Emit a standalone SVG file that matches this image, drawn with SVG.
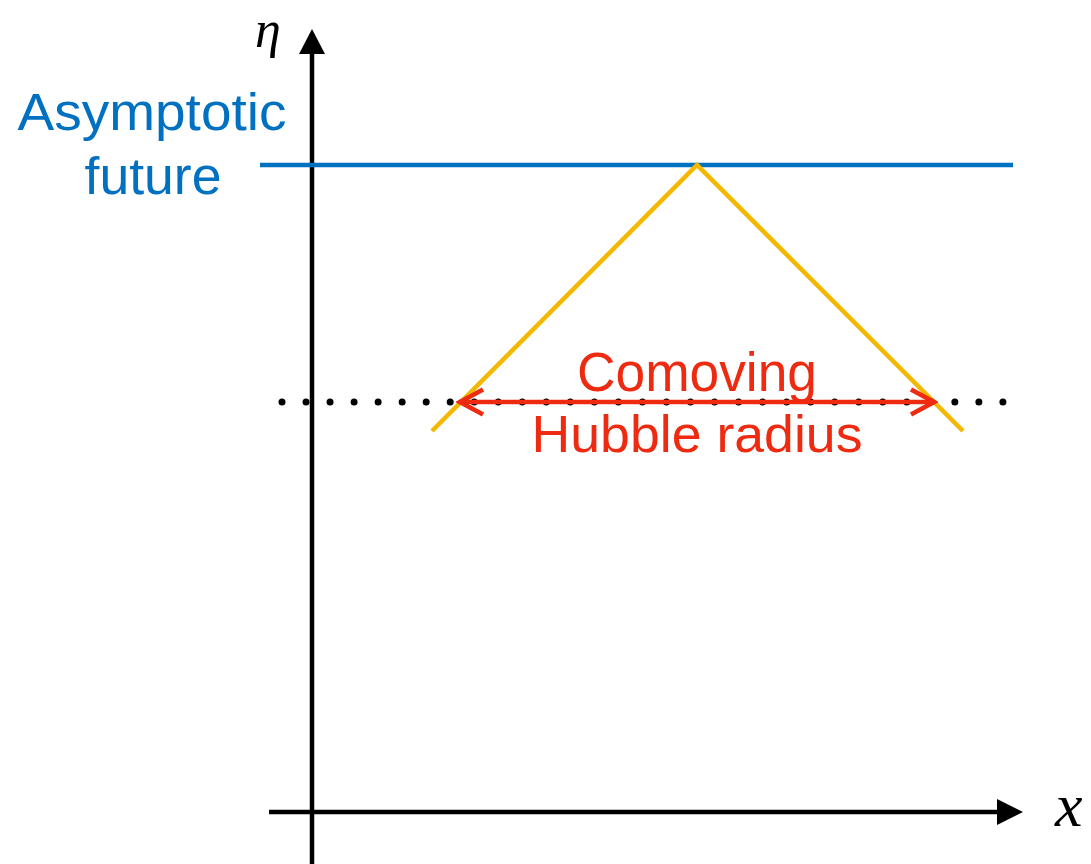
<svg xmlns="http://www.w3.org/2000/svg" width="1091" height="864" viewBox="0 0 1091 864">
<style>
.axis{stroke:#000;stroke-width:4.5;fill:none}
.lbl{font-family:"Liberation Sans",Arial,sans-serif}
.math{font-family:"Liberation Serif","Times New Roman",serif;font-style:italic}
</style>
<defs>
<marker id="redhead" viewBox="-28 -16 32 32" refX="1" refY="0" markerWidth="32" markerHeight="32" markerUnits="userSpaceOnUse" orient="auto-start-reverse">
<path d="M-23,-12.5 L0,0 L-23,12.5" fill="none" stroke="#EE2A10" stroke-width="4.5"/>
</marker>
</defs>
<rect width="1091" height="864" fill="#fff"/>
<g id="connectors">
<line class="axis" x1="312" y1="864" x2="312" y2="50"/>
<polygon points="312,29 299,54 325,54" fill="#000"/>
<line class="axis" x1="269" y1="812" x2="1000" y2="812"/>
<polygon points="1023,812 997,799 997,825" fill="#000"/>
<line x1="260" y1="165" x2="1013" y2="165" stroke="#0070C0" stroke-width="4.5"/>
<polyline points="432,431 697,165 963,431" fill="none" stroke="#F5B800" stroke-width="4.5"/>
<line x1="282" y1="402" x2="1003" y2="402" stroke="#000" stroke-width="7" stroke-linecap="round" stroke-dasharray="0 24.03"/>
<line x1="459" y1="402" x2="935" y2="402" stroke="#EE2A10" stroke-width="4.5" marker-start="url(#redhead)" marker-end="url(#redhead)"/>
</g>
<g id="eta-label"><text class="math" x="255" y="47" font-size="52">η</text></g>
<g id="x-label"><text class="math" x="1055" y="826" font-size="62">x</text></g>
<g id="asymptotic-future">
<text class="lbl" fill="#0070C0" font-size="51" text-anchor="middle" x="152" y="130" textLength="269" lengthAdjust="spacingAndGlyphs">Asymptotic</text>
<text class="lbl" fill="#0070C0" font-size="51" text-anchor="middle" x="153" y="194" textLength="137" lengthAdjust="spacingAndGlyphs">future</text>
</g>
<g id="hubble-radius">
<text class="lbl" fill="#EE2A10" font-size="55" text-anchor="middle" x="697" y="391" textLength="240" lengthAdjust="spacingAndGlyphs">Comoving</text>
<text class="lbl" fill="#EE2A10" font-size="52" text-anchor="middle" x="697" y="452" textLength="331" lengthAdjust="spacingAndGlyphs">Hubble radius</text>
</g>
</svg>
